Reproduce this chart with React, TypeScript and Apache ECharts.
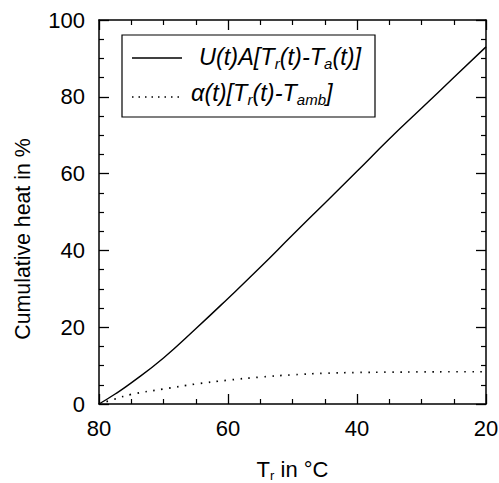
import React, { useEffect, useRef } from "react";
import * as echarts from "echarts";

const trValues = [80, 77.5, 75, 70, 65, 60, 55, 50, 45, 40, 35, 30, 25, 20];
const heatU = [0, 2.6, 5.5, 12, 19.6, 27.5, 35.6, 44, 52.3, 60.6, 69, 77, 85, 93];
const heatAlpha = [0, 1.3, 2.5, 3.9, 5.2, 6.2, 7.0, 7.6, 8.0, 8.2, 8.3, 8.35, 8.4, 8.4];
const xTicks = [20, 40, 60, 80];
const yTicks = [0, 20, 40, 60, 80, 100];
const seriesNames = ["U(t)A[Tr(t)-Ta(t)]", "α(t)[Tr(t)-Tamb]"];

const FONT = "'Liberation Sans', Arial, Helvetica, sans-serif";

export default function App() {
  const ref = useRef<HTMLDivElement>(null);
  useEffect(() => {
    if (!ref.current) return;
    const chart = echarts.init(ref.current, undefined, { renderer: "svg" });
    const axisCommon = {
      type: "value" as const,
      axisLine: { show: true, onZero: false, lineStyle: { color: "#000", width: 1.5 } },
      axisTick: { show: true, inside: true, length: 10, lineStyle: { color: "#000", width: 1.3 } },
      minorTick: { show: true, splitNumber: 4, length: 5, lineStyle: { color: "#000", width: 1.2 } },
      splitLine: { show: false },
      minorSplitLine: { show: false },
    };
    const xBase = { ...axisCommon, min: xTicks[0], max: xTicks[xTicks.length - 1], interval: 20, inverse: true };
    const yBase = { ...axisCommon, min: yTicks[0], max: yTicks[yTicks.length - 1], interval: 20 };
    const rich = {
      n: { fontSize: 23.5, fontStyle: "italic" as const, fontFamily: FONT, color: "#000", lineHeight: 30, verticalAlign: "middle" as const },
      s: { fontSize: 15, fontStyle: "italic" as const, fontFamily: FONT, color: "#000", lineHeight: 30, padding: [13, 0, 0, 0], verticalAlign: "middle" as const },
    };
    chart.setOption({
      animation: false,
      grid: { left: 99, top: 20, right: 13, bottom: 79, containLabel: false, outerBoundsMode: "none" },
      xAxis: [
        {
          ...xBase,
          position: "bottom",
          name: "{n|T}{s|r}{n| in °C}",
          nameLocation: "middle",
          nameGap: 52,
          nameTextStyle: {
            fontSize: 22, fontFamily: FONT, color: "#000",
            rich: {
              s: { fontSize: 13, fontFamily: FONT, color: "#000", lineHeight: 26, padding: [12, 0, 0, 0], verticalAlign: "middle" },
              n: { fontSize: 22, fontFamily: FONT, color: "#000", lineHeight: 26, verticalAlign: "middle" },
            },
          },
          axisLabel: { show: true, fontSize: 22, fontFamily: FONT, color: "#000", margin: 13 },
        },
        { ...xBase, position: "top", axisLabel: { show: false } },
      ],
      yAxis: [
        {
          ...yBase,
          position: "left",
          name: "Cumulative heat in %",
          nameLocation: "middle",
          nameGap: 66,
          nameTextStyle: { fontSize: 21.3, fontFamily: FONT, color: "#000", padding: [0, 54, 0, 0] },
          axisLabel: { show: true, fontSize: 22, fontFamily: FONT, color: "#000", margin: 14 },
        },
        { ...yBase, position: "right", axisLabel: { show: false } },
      ],
      graphic: [
        {
          type: "rect",
          shape: { x: 122, y: 35, width: 253, height: 82 },
          style: { fill: "#fff", stroke: "#000", lineWidth: 1.2 },
          z: 100,
        },
        {
          type: "line",
          shape: { x1: 132, y1: 58, x2: 182, y2: 58 },
          style: { stroke: "#000", lineWidth: 1.3 },
          z: 101,
        },
        {
          type: "line",
          shape: { x1: 132, y1: 97, x2: 182, y2: 97 },
          style: { stroke: "#000", lineWidth: 1.6, lineDash: [1.5, 5] },
          z: 101,
        },
        {
          type: "text",
          x: 199,
          y: 57,
          z: 101,
          style: {
            text: "{n|U(t)A[T}{s|r}{n|(t)-T}{s|a}{n|(t)]}",
            rich,
            verticalAlign: "middle",
          },
        },
        {
          type: "text",
          x: 191,
          y: 93,
          z: 101,
          style: {
            text: "{n|α(t)[T}{s|r}{n|(t)-T}{s|amb}{n|]}",
            rich,
            verticalAlign: "middle",
          },
        },
      ],
      series: [
        {
          name: seriesNames[0],
          type: "line",
          data: trValues.map((t, i) => [t, heatU[i]]),
          smooth: true,
          showSymbol: false,
          lineStyle: { color: "#000", width: 1.4 },
        },
        {
          name: seriesNames[1],
          type: "line",
          data: trValues.map((t, i) => [t, heatAlpha[i]]),
          smooth: true,
          showSymbol: false,
          lineStyle: { color: "#000", width: 1.7, type: [1.5, 6.5] },
        },
      ],
    });
    return () => chart.dispose();
  }, []);
  return <div ref={ref} style={{ width: 499, height: 483, position: "absolute", left: 0, top: 0 }} />;
}
